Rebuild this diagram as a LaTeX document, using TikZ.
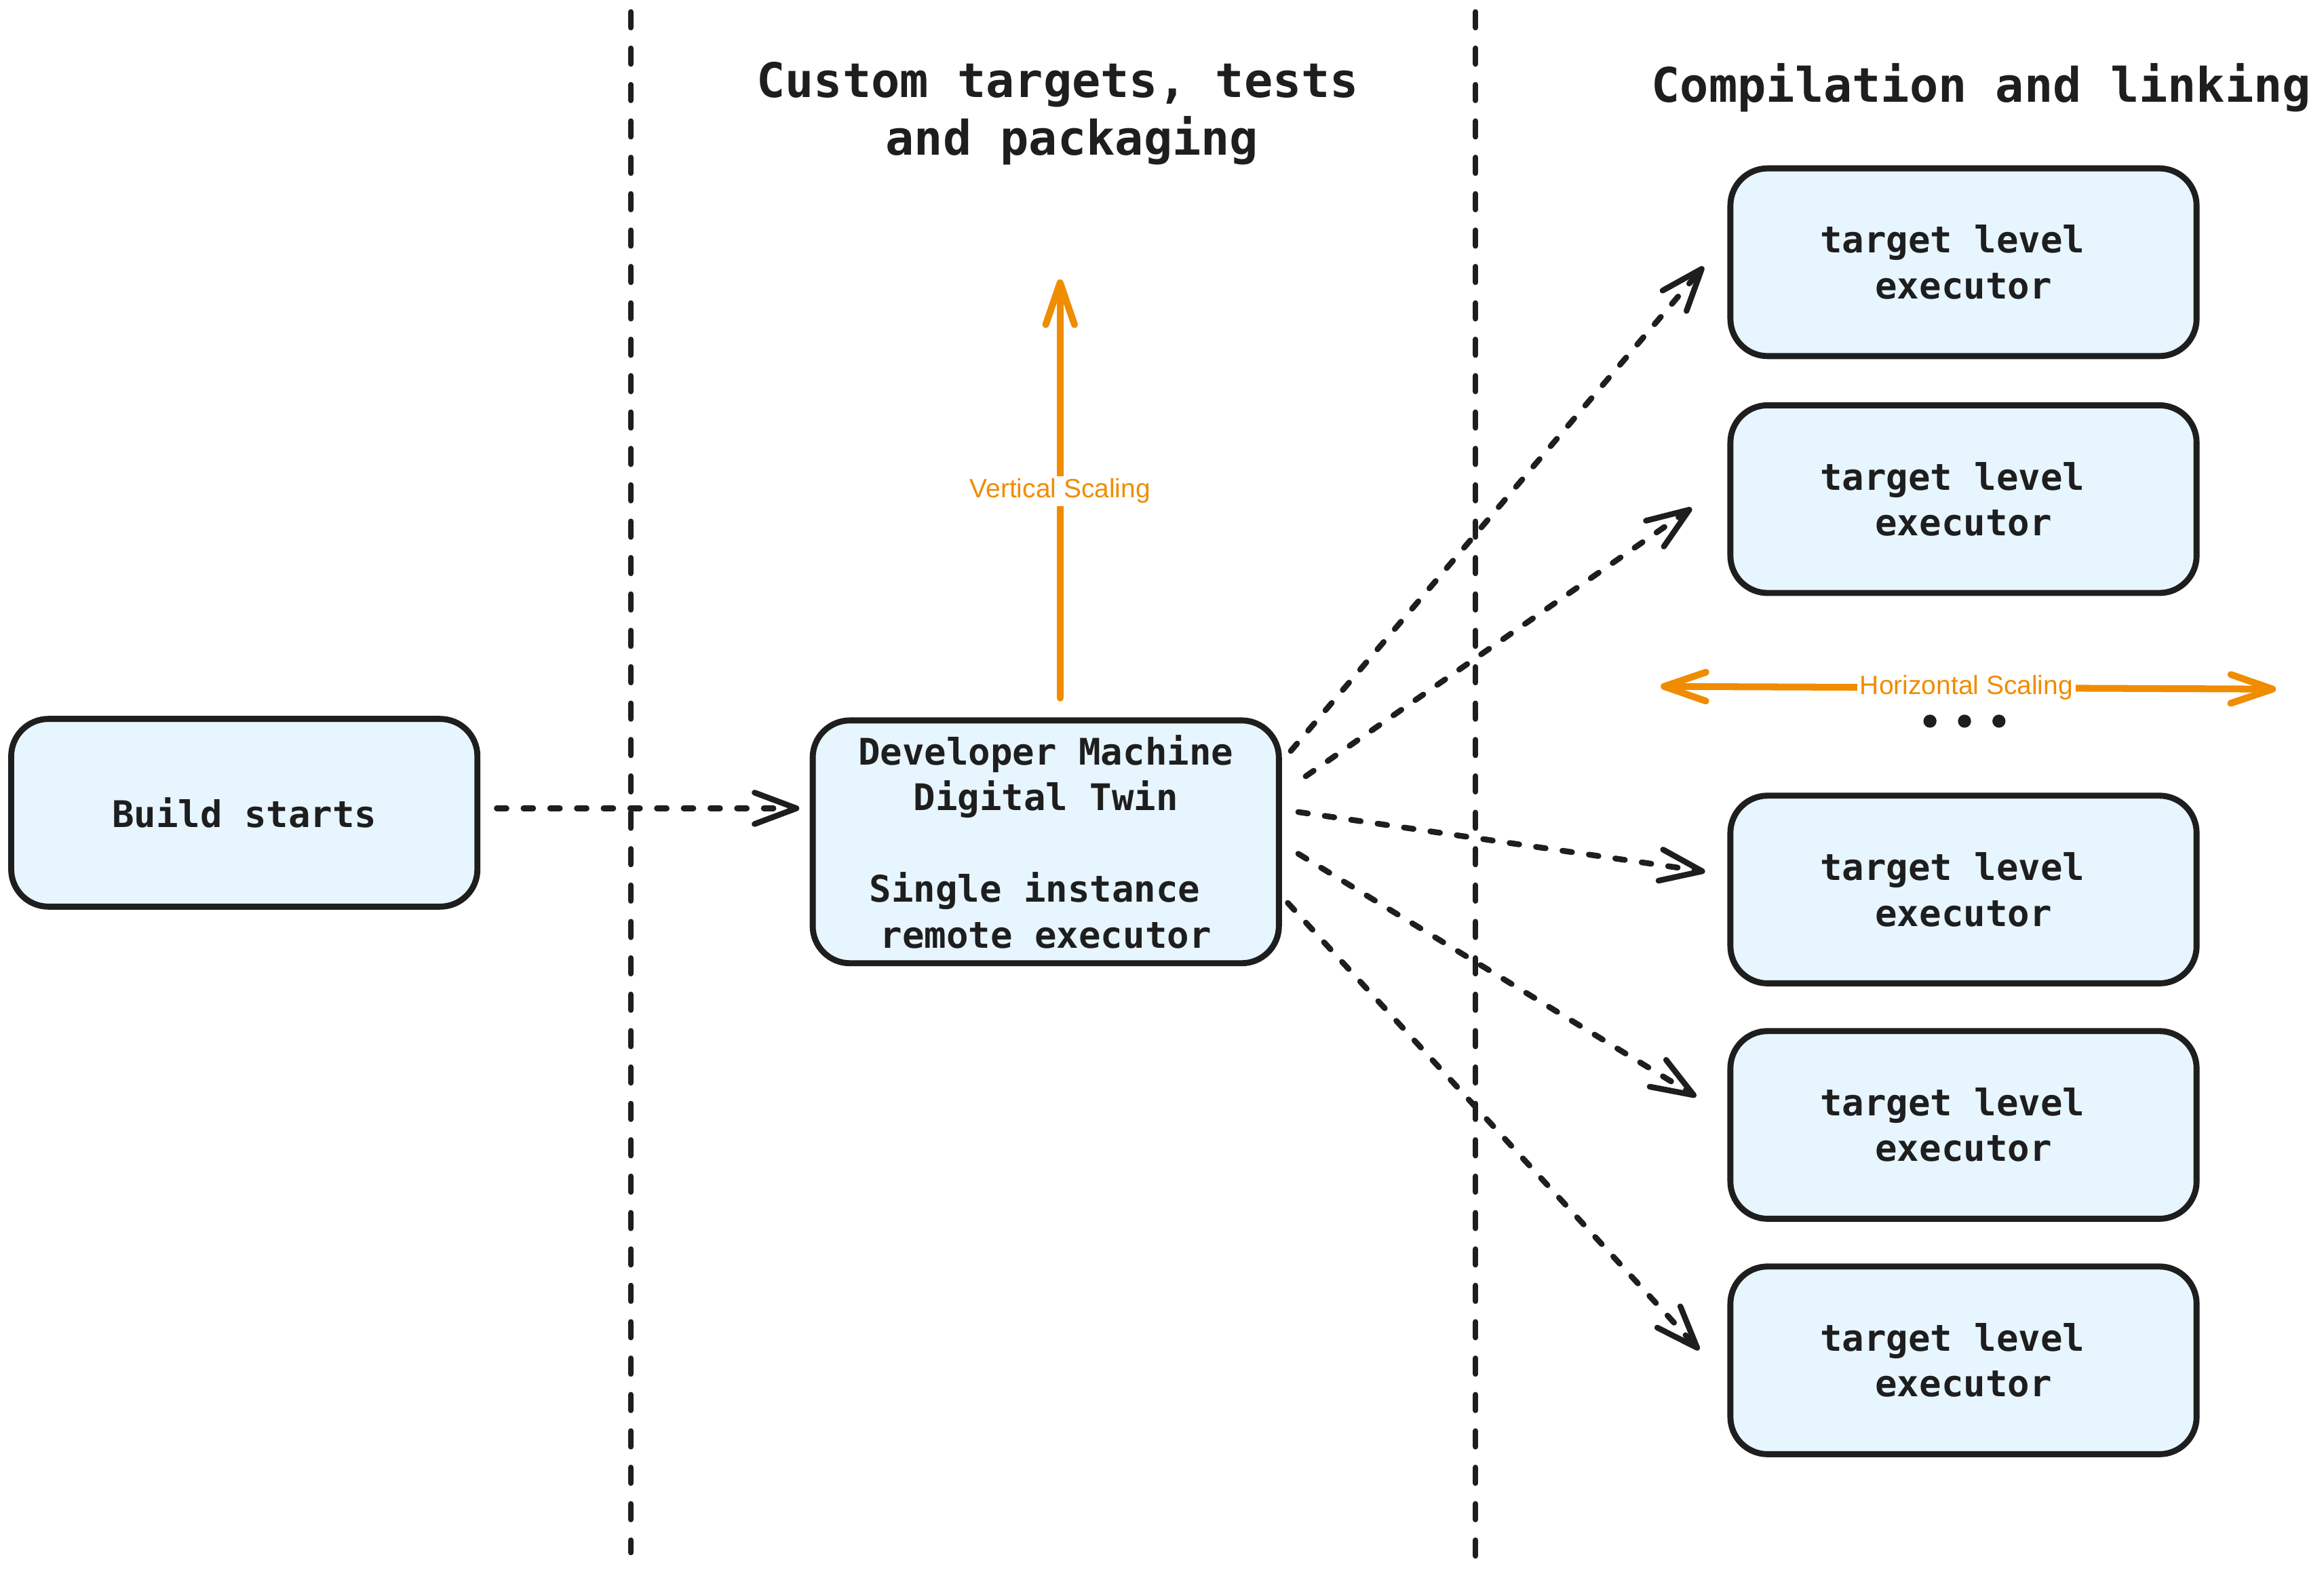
\documentclass[tikz,border=0pt]{standalone}
\usepackage{fontspec}
\setmonofont{DejaVu Sans Mono}
\setsansfont{Liberation Sans}
\newfontfamily\boxfont{DejaVu Sans Mono Bold}
\usetikzlibrary{arrows.meta}
\definecolor{myboxcolor}{HTML}{e7f5ff}
\definecolor{myinkcolor}{HTML}{1e1e1e}
\definecolor{myscalecolor}{HTML}{f08c00}
\tikzset{
  execbox/.style={draw=myinkcolor, fill=myboxcolor, line width=2.3pt, rounded corners=0.5cm, rectangle, minimum width=6.26cm, minimum height=2.52cm, align=center, outer sep=0pt, text=myinkcolor, font=\boxfont\fontsize{14pt}{17.5pt}\selectfont},
  divider/.style={draw=myinkcolor, line width=2.1pt, line cap=round, dash pattern=on 6pt off 7.9pt},
  dasharrow/.style={draw=myinkcolor, line width=2.2pt, line cap=round, dash pattern=on 3.7pt off 6.5pt, -{Straight Barb[length=16pt,width=12pt,round]}},
  scalearrow/.style={draw=myscalecolor, line width=2.6pt, line cap=round},
  scalelabel/.style={fill=white, text=myscalecolor, inner sep=1pt, font=\sffamily\fontsize{10.1pt}{12pt}\selectfont},
  paneltitle/.style={text=myinkcolor, align=center, inner sep=0pt, font=\boxfont\fontsize{18.2pt}{22pt}\selectfont},
}

\begin{document}
\begin{tikzpicture}[x=0.02cm, y=-0.02cm]%
\useasboundingbox[fill=white] (0,0) rectangle (1560,1056.4);%
% column dividers
\draw[divider] (423.5,8) -- (423.5,1042);%
\draw[divider] (990.5,8) -- (990.5,1052);%
% column titles
\node[paneltitle] (titlemid) at (710,76) {Custom targets, tests\\\hspace*{0.602em}and packaging};%
\node[paneltitle] (titleright) at (1330,59) {Compilation and linking};%
% executors
\node[execbox] (build) at (164,545.5) {Build starts};%
\node[execbox, minimum height=3.26cm] (dev) at (702,565) {Developer Machine\\Digital Twin\\[17.5pt]Single instance\phantom{x}\\remote executor};%
\node[execbox] (t1) at (1318,176) {target level\hspace*{0.602em}\\executor};%
\node[execbox] (t2) at (1318,335) {target level\hspace*{0.602em}\\executor};%
\node[execbox] (t3) at (1318,597) {target level\hspace*{0.602em}\\executor};%
\node[execbox] (t4) at (1318,755) {target level\hspace*{0.602em}\\executor};%
\node[execbox] (t5) at (1318,913) {target level\hspace*{0.602em}\\executor};%
% dashed arrows
\draw[dasharrow, shorten <=0.26cm, shorten >=0.18cm] ([yshift=0.06cm]build.east) -- ([yshift=0.06cm]build.east -| dev.west);%
\draw[dasharrow] ([shift={(8,-61)}]dev.east) -- ([shift={(-18,3)}]t1.west);%
\draw[dasharrow] ([shift={(18,-44)}]dev.east) -- ([shift={(-26,6)}]t2.west);%
\draw[dasharrow] ([shift={(13,-20)}]dev.east) -- ([shift={(-17,-12)}]t3.west);%
\draw[dasharrow] ([shift={(13,8)}]dev.east) -- ([shift={(-23,-19)}]t4.west);%
\draw[dasharrow] ([shift={(6,41)}]dev.east) -- ([shift={(-21,-7)}]t5.west);%
% scaling arrows
\coordinate (vtop) at (711.6,187.5);%
\draw[scalearrow, -{Straight Barb[length=16pt,width=11pt,round]}, shorten <=0.3cm] (dev.north -| vtop) -- node[scalelabel, pos=0.52] (vlabel) {Vertical Scaling} (vtop);%
\coordinate (hleft) at (1114.7,460.7);%
\coordinate (hright) at (1527.8,462.5);%
\draw[scalearrow, {Straight Barb[length=16pt,width=11pt,round]}-{Straight Barb[length=16pt,width=11pt,round]}] (hleft) -- node[scalelabel, pos=0.497] (hlabel) {Horizontal Scaling} (hright);%
% more executors
\fill[myinkcolor] (1295.5,484) circle[radius=0.088cm];%
\fill[myinkcolor] (1318.7,484) circle[radius=0.088cm];%
\fill[myinkcolor] (1341.8,484) circle[radius=0.088cm];%
\end{tikzpicture}
\end{document}
